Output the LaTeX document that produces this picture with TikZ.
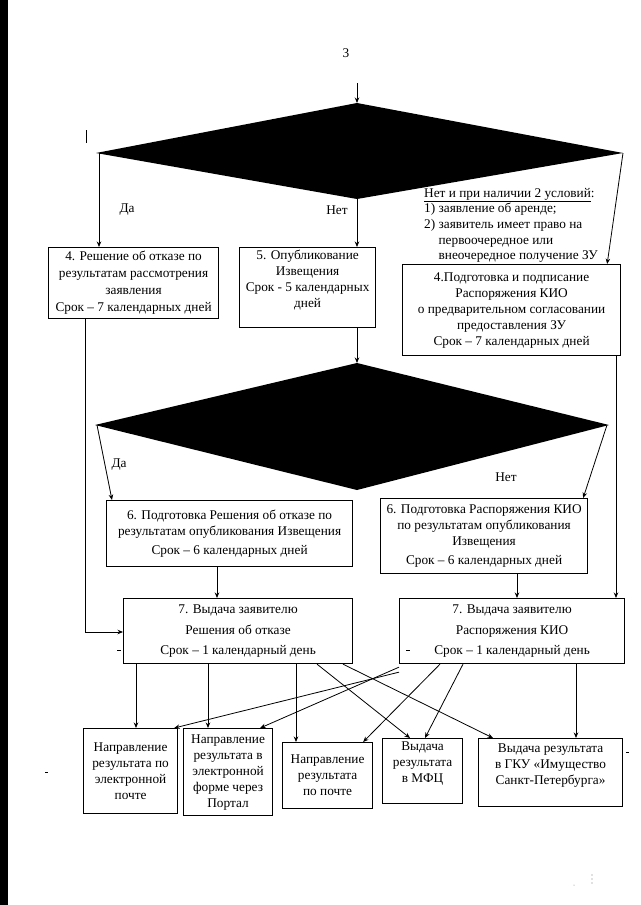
\documentclass[tikz,border=0pt]{standalone}
\usepackage{fontspec}
\setmainfont{Liberation Serif}
\usetikzlibrary{arrows.meta,calc}
\newcommand\myfs{\fontsize{13.3}{16}\selectfont}
\begin{document}
\begin{tikzpicture}[x=1pt,y=-1pt,
  box/.style={draw, line width=1.15pt, inner sep=1pt, align=center, anchor=north west, font=\myfs},
  lbl/.style={font=\myfs, inner sep=0pt},
  arr/.style={-{Stealth[length=5.5pt,width=4.5pt]}, line width=0.8pt},
  ln/.style={line width=0.8pt}]
\useasboundingbox (0,0) rectangle (640,905);
\fill[white] (0,0) rectangle (640,905);
\fill[black] (0,0) rectangle (8,905);

% page number
\node[lbl] (pg) at (346,53) {3};

% diamonds
\coordinate (start) at (357,83);
\coordinate (d1t) at (357,103);
\coordinate (d1l) at (96,153);
\coordinate (d1r) at (623,153);
\coordinate (d1b) at (357,199);
\fill[black] (d1t) -- (d1r) -- (d1b) -- (d1l) -- cycle;
\coordinate (d2t) at (357,363);
\coordinate (d2l) at (95,425);
\coordinate (d2r) at (609,425);
\coordinate (d2b) at (357,490);
\fill[black] (d2t) -- (d2r) -- (d2b) -- (d2l) -- cycle;

% boxes
\node[box, minimum width=170pt, minimum height=71pt] (b4l) at (48,247)
  {4. Решение об отказе по\\[1pt] результатам рассмотрения\\[1pt] заявления\\[1pt] Срок – 7 календарных дней};
\node[box, minimum width=136pt, minimum height=80pt] (b5) at (239,247)
  {5. Опубликование\\ Извещения\\ Срок - 5 календарных\\ дней\\[2pt]\mbox{}};
\node[box, minimum width=218pt, minimum height=91pt] (b4r) at (402,264)
  {4.Подготовка и подписание\\ Распоряжения КИО\\ о предварительном согласовании\\ предоставления ЗУ\\ Срок – 7 календарных дней};
\node[font=\fontsize{13.3}{15.6}\selectfont, align=left, anchor=north west, inner sep=0pt] (cond) at (424,188)
  {\underline{Нет и при наличии 2 условий}:\\
   1) заявление об аренде;\\
   2) заявитель имеет право на\\
   \phantom{2) }первоочередное или\\
   \phantom{2) }внеочередное получение ЗУ};

\node[box, minimum width=246pt, minimum height=66pt] (b6l) at (106,500)
  {6. Подготовка Решения об отказе по\\ результатам опубликования Извещения\\[3pt] Срок – 6 календарных дней};
\node[box, minimum width=207pt, minimum height=75pt] (b6r) at (380,498)
  {6. Подготовка Распоряжения КИО\\ по результатам опубликования\\ Извещения\\[3pt] Срок – 6 календарных дней};

\node[box, minimum width=229pt, minimum height=65pt] (b7l) at (123,598)
  {7. Выдача заявителю\\[4.5pt] Решения об отказе\\[4.5pt] Срок – 1 календарный день};
\node[box, minimum width=225pt, minimum height=65pt] (b7r) at (399,598)
  {7. Выдача заявителю\\[4.5pt] Распоряжения КИО\\[4.5pt] Срок – 1 календарный день};

\node[box, minimum width=94pt, minimum height=85pt] (o1) at (83,728)
  {Направление\\ результата по\\ электронной\\ почте};
\node[box, minimum width=89pt, minimum height=87pt] (o2) at (183,728)
  {Направление\\ результата в\\ электронной\\ форме через\\ Портал};
\node[box, minimum width=90pt, minimum height=66pt] (o3) at (282,742)
  {Направление\\ результата\\ по почте};
\node[box, minimum width=80pt, minimum height=65pt] (o4) at (382,738)
  {Выдача\\ результата\\ в МФЦ\\[1pt]\mbox{}};
\node[box, minimum width=144pt, minimum height=68pt] (o5) at (478,738)
  {Выдача результата\\ в ГКУ «Имущество\\ Санкт-Петербурга»\\[0pt]\mbox{}};

% labels
\node[lbl] (da1) at (127,210) {Да};
\node[lbl] (net1) at (337,210) {Нет};
\node[lbl] (da2) at (119,465) {Да};
\node[lbl] (net2) at (506,477) {Нет};

% connectors top
\draw[arr] (start) -- (d1t);
\draw[arr] ([xshift=3pt]d1l) -- ([xshift=3pt]d1l |- b4l.north);
\draw[arr] (d1b) -- (d1b |- b5.north);
\draw[arr] (d1r) -- ([xshift=-14pt]b4r.north east);
\draw[arr] (d2t |- b5.south) -- (d2t);

% long side lines
\coordinate (lft) at (85,632);
\draw[arr] (b4l.south -| lft) -- (lft) -- (lft -| b7l.west);
\coordinate (rgt) at (616,0);
\draw[arr] (b4r.south -| rgt) -- (b7r.north -| rgt);

% diamond 2 branches
\draw[arr] ([xshift=2pt]d2l) -- ([xshift=6pt]b6l.north west);
\draw[arr] ([xshift=-2pt]d2r) -- ([xshift=-5pt]b6r.north east);

\coordinate (c6l) at (217,0);
\coordinate (c6r) at (517,0);
\draw[arr] (b6l.south -| c6l) -- (b7l.north -| c6l);
\draw[arr] (b6r.south -| c6r) -- (b7r.north -| c6r);

% bottom connectors
\coordinate (x1) at (136,0);
\coordinate (x2) at (208,0);
\coordinate (x3) at (296,0);
\coordinate (x5) at (576,0);
\draw[arr] (b7l.south -| x1) -- (o1.north -| x1);
\draw[arr] (b7l.south -| x2) -- (o2.north -| x2);
\draw[arr] (b7l.south -| x3) -- (o3.north -| x3);
\draw[arr] ([xshift=194pt]b7l.south west) -- ([xshift=28pt]o4.north west);
\draw[arr] ([xshift=220pt]b7l.south west) -- ([xshift=15pt]o5.north west);
\draw[arr] ([yshift=-8pt]b7r.south west) -- ([xshift=-4pt]o1.north east);
\draw[arr] ([yshift=-3pt]b7r.south west) -- ([xshift=-13pt]o2.north east);
\draw[arr] ([xshift=41pt]b7r.south west) -- ([xshift=-10pt]o3.north east);
\draw[arr] ([xshift=64pt]b7r.south west) -- ([xshift=43pt]o4.north west);
\draw[arr] (b7r.south -| x5) -- (o5.north -| x5);

% stray marks of the scan
\draw[line width=1pt] (86,130) -- (86,143);
\draw[line width=0.8pt] (117,650) -- (121,650);
\draw[line width=0.8pt] (406,650) -- (410,650);
\draw[line width=0.8pt] (45,772) -- (48,772);
\draw[line width=0.8pt] (626,752) -- (629,752);
\fill[gray] (592,875) circle (0.6) (592,879) circle (0.6) (592,883) circle (0.6) (574,885) circle (0.5);
\end{tikzpicture}
\end{document}
